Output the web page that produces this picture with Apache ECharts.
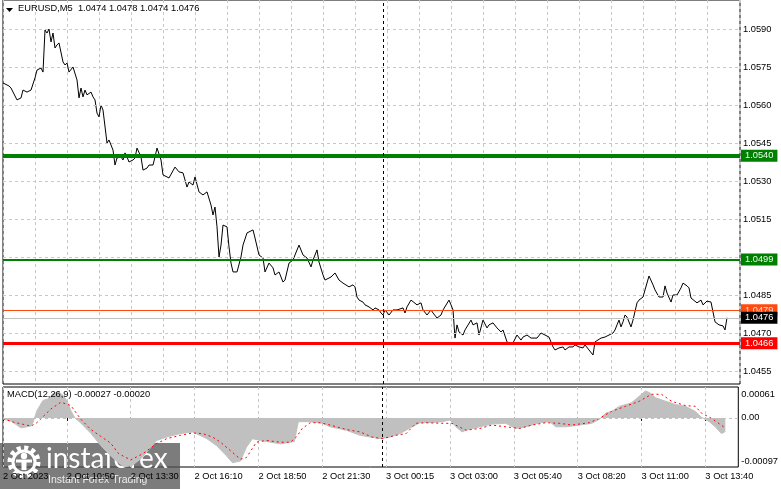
<!DOCTYPE html>
<html><head><meta charset="utf-8">
<script src="https://cdn.jsdelivr.net/npm/echarts@6/dist/echarts.min.js"></script>
<style>html,body{margin:0;padding:0;background:#fff;overflow:hidden}#c{width:781px;height:489px}</style>
</head><body><div id="c"></div>
<script>
// ---------- data ----------
const timeLabels = ["2 Oct 2023","2 Oct 10:50","2 Oct 13:30","2 Oct 16:10","2 Oct 18:50","2 Oct 21:30","3 Oct 00:15","3 Oct 03:00","3 Oct 05:40","3 Oct 08:20","3 Oct 11:00","3 Oct 13:40"];
const timeLabelBars = [0,32,64,96,128,160,192,224,256,288,320,352];
const priceTicks = [1.0455,1.0470,1.0485,1.0500,1.0515,1.0530,1.0545,1.0560,1.0575,1.0590];
const levelValues = [1.0540,1.0499,1.0479,1.0476,1.0466];
const separatorBar = 190;

const priceBars = [0,3,4,7,9,10,12,14,16,17,19,20,21,22,23,24,25,26,27,28,29,30,31,32,33,35,36,37,38,39,40,41,42,44,45,46,47,48,49,50,52,53,55,56,57,59,60,61,62,63,65,66,67,69,70,72,73,75,76,77,79,80,83,86,88,90,92,93,95,96,98,100,102,104,105,106,107,108,109,110,112,113,114,115,117,119,120,122,125,126,128,130,131,133,135,136,138,140,141,143,145,146,148,150,152,154,155,157,158,160,161,164,166,168,170,171,173,175,176,177,178,180,181,183,185,186,188,189,190,191,193,195,197,200,201,202,204,205,207,209,210,212,214,215,217,219,220,223,224,225,226,227,228,230,231,234,235,237,238,240,242,243,245,247,249,250,252,254,255,257,259,260,262,264,265,267,269,271,273,275,276,278,280,281,283,285,286,288,290,291,293,295,296,297,299,301,303,305,306,307,308,309,310,311,312,314,315,317,318,320,321,323,325,326,328,330,331,332,334,335,337,339,340,342,343,344,345,347,349,350,352,354,355,356,358,360,361,362];
const priceClose = [1.05687,1.05675,1.05667,1.05620,1.05628,1.05659,1.05651,1.05659,1.05707,1.05738,1.05746,1.05730,1.05896,1.05884,1.05900,1.05849,1.05884,1.05825,1.05837,1.05845,1.05845,1.05770,1.05758,1.05766,1.05730,1.05750,1.05746,1.05699,1.05628,1.05667,1.05632,1.05659,1.05640,1.05651,1.05632,1.05620,1.05568,1.05553,1.05600,1.05580,1.05450,1.05462,1.05422,1.05363,1.05391,1.05395,1.05383,1.05411,1.05395,1.05375,1.05383,1.05391,1.05430,1.05395,1.05343,1.05351,1.05363,1.05363,1.05395,1.05430,1.05383,1.05324,1.05312,1.05355,1.05336,1.05332,1.05276,1.05296,1.05284,1.05316,1.05257,1.05245,1.05257,1.05205,1.05166,1.05197,1.05119,1.05000,1.05047,1.05126,1.05119,1.05040,1.04976,1.04941,1.04941,1.05000,1.05047,1.05095,1.05107,1.05075,1.05008,1.04996,1.04941,1.04976,1.04957,1.04929,1.04941,1.04901,1.04909,1.04976,1.04988,1.05008,1.05047,1.05008,1.04996,1.04961,1.04988,1.05028,1.04980,1.04929,1.04909,1.04921,1.04937,1.04909,1.04897,1.04890,1.04882,1.04890,1.04882,1.04842,1.04830,1.04822,1.04811,1.04803,1.04791,1.04799,1.04791,1.04779,1.04771,1.04791,1.04771,1.04791,1.04791,1.04799,1.04779,1.04803,1.04830,1.04830,1.04811,1.04819,1.04791,1.04771,1.04791,1.04779,1.04759,1.04771,1.04791,1.04830,1.04811,1.04791,1.04680,1.04732,1.04704,1.04692,1.04712,1.04751,1.04732,1.04740,1.04692,1.04751,1.04720,1.04732,1.04740,1.04720,1.04704,1.04712,1.04665,1.04653,1.04661,1.04692,1.04672,1.04684,1.04692,1.04680,1.04684,1.04680,1.04700,1.04692,1.04684,1.04645,1.04633,1.04641,1.04645,1.04633,1.04645,1.04645,1.04653,1.04645,1.04641,1.04653,1.04633,1.04613,1.04665,1.04672,1.04680,1.04684,1.04692,1.04700,1.04712,1.04732,1.04751,1.04724,1.04744,1.04771,1.04763,1.04724,1.04751,1.04819,1.04830,1.04842,1.04870,1.04925,1.04890,1.04870,1.04842,1.04842,1.04886,1.04858,1.04822,1.04850,1.04850,1.04878,1.04897,1.04886,1.04878,1.04838,1.04842,1.04819,1.04830,1.04811,1.04826,1.04822,1.04819,1.04744,1.04732,1.04728,1.04712,1.04760];

const macdBars = [0,4,9,14,15,17,20,23,25,28,30,32,34,36,39,44,49,54,58,61,65,69,74,77,82,89,95,102,107,112,115,119,122,125,129,139,144,146,148,154,160,164,172,179,184,189,194,199,205,209,214,220,224,227,230,232,239,245,252,257,262,269,274,277,282,289,295,299,302,305,309,312,315,319,322,324,327,332,337,342,347,350,354,357,360,362];
const macdHist = [-0.000026,-0.000061,-0.000197,-0.000162,-0.000095,0.000142,0.000344,0.000379,0.000480,0.000513,0.000446,0.000344,0.000142,0,-0.000101,-0.000304,-0.000547,-0.000750,-0.000891,-0.000970,-0.000932,-0.000810,-0.000588,-0.000446,-0.000379,-0.000310,-0.000278,-0.000405,-0.000547,-0.000750,-0.000885,-0.000851,-0.000581,-0.000411,-0.000446,-0.000513,-0.000480,-0.000466,-0.000075,-0.000075,-0.000107,-0.000176,-0.000243,-0.000344,-0.000379,-0.000411,-0.000379,-0.000310,-0.000176,-0.000095,-0.000095,-0.000075,-0.000041,-0.000176,-0.000278,-0.000243,-0.000176,-0.000122,-0.000107,-0.000209,-0.000176,-0.000095,-0.000075,-0.000176,-0.000176,-0.000142,-0.000107,-0.000026,0.000095,0.000128,0.000229,0.000263,0.000298,0.000432,0.000533,0.000500,0.000399,0.000330,0.000263,0.000229,0.000128,0.000014,-0.000075,-0.000176,-0.000310,-0.000270];

const signalBars = [0,5,14,17,24,29,34,39,44,49,54,58,64,70,77,82,89,95,100,105,109,114,119,122,127,132,139,144,147,150,154,159,164,172,179,185,190,197,202,207,212,220,225,232,239,245,252,259,265,272,279,285,294,299,305,312,319,325,330,335,342,347,350,355,362];
const signalVals = [-0.000014,-0.000081,-0.000162,-0.000095,0.000176,0.000310,0.000243,-0.000026,-0.000229,-0.000365,-0.000500,-0.000709,-0.000831,-0.000709,-0.000507,-0.000411,-0.000344,-0.000298,-0.000310,-0.000379,-0.000480,-0.000648,-0.000816,-0.000784,-0.000480,-0.000446,-0.000480,-0.000480,-0.000379,-0.000209,-0.000095,-0.000095,-0.000142,-0.000229,-0.000278,-0.000379,-0.000411,-0.000344,-0.000310,-0.000107,-0.000095,-0.000107,-0.000107,-0.000243,-0.000209,-0.000142,-0.000176,-0.000209,-0.000142,-0.000095,-0.000107,-0.000142,-0.000095,-0.000006,0.000128,0.000229,0.000330,0.000466,0.000466,0.000330,0.000243,0.000229,0.000095,-0.000006,-0.000200];
const macdTicks = [0.00061, 0, -0.00097];

// ---------- chart ----------
const FONT = 'Liberation Sans';
const FS = 9.3;
const zip = (a, b) => a.slice(0, Math.min(a.length, b.length)).map((x, i) => [x, b[i]]);

const levelStyles = [
  {color:'#008000', width:4, bg:'#008000', fg:'#e8ffe8'},
  {color:'#008000', width:2, bg:'#008000', fg:'#e8ffe8'},
  {color:'#ff4a10', width:1, bg:'#ff4a10', fg:'#ffd8c8'},
  {color:'#c0c0c0', width:1, bg:'#000000', fg:'#ffffff'},
  {color:'#ff0000', width:3, bg:'#ff0000', fg:'#ffffff'}
];

const pMax = 1.0590 + 29/25333;
const pMin = pMax - 384/25333;

const gridLineStyle = {color:'#c8c8c8', type:[3,3], width:1};

const option = {
  animation: false,
  backgroundColor: '#ffffff',
  grid: [
    {left:3, right:41, top:0, height:384, show:true, borderColor:'#000', borderWidth:1, backgroundColor:'transparent'},
    {left:3, right:41, top:387, height:80, show:true, borderColor:'#000', borderWidth:1, backgroundColor:'transparent'}
  ],
  xAxis: [
    {type:'value', gridIndex:0, min:0, max:368.5, interval:16,
     axisLine:{show:false}, axisTick:{show:false}, axisLabel:{show:false},
     splitLine:{show:true, lineStyle:gridLineStyle}},
    {type:'value', gridIndex:1, min:0, max:368.5, interval:16,
     axisLine:{show:false},
     axisTick:{show:true, customValues: timeLabelBars, length:3, lineStyle:{color:'#000'}},
     axisLabel:{show:true, customValues: timeLabelBars, align:'left', margin:5,
       fontFamily:FONT, fontSize:FS, color:'#000',
       formatter: v => { const i = timeLabelBars.indexOf(v); return i >= 0 ? timeLabels[i] : ''; }},
     splitLine:{show:true, lineStyle:gridLineStyle}}
  ],
  yAxis: [
    {type:'value', gridIndex:0, position:'right', min:pMin, max:pMax, scale:true,
     axisLine:{show:false},
     axisTick:{show:true, customValues: priceTicks, length:3, lineStyle:{color:'#000'}},
     axisLabel:{show:true, customValues: priceTicks, margin:3, fontFamily:FONT, fontSize:FS, color:'#000',
       formatter: v => Math.abs(v - 1.05) < 1e-9 ? '' : v.toFixed(4)},
     splitLine:{show:false}},
    {type:'value', gridIndex:1, position:'right', min:-0.00097, max:0.00061,
     axisLine:{show:false},
     axisTick:{show:false},
     axisLabel:{show:true, customValues: macdTicks, margin:3, fontFamily:FONT, fontSize:FS, color:'#000',
       formatter: v => v > 0.0001 ? '{t|' + v.toFixed(5) + '}' : (v < -0.0001 ? '{b|' + v.toFixed(5) + '}' : '{m|0.00}'),
       rich:{
         t:{fontFamily:FONT, fontSize:FS, color:'#000', padding:[14,0,0,0]},
         b:{fontFamily:FONT, fontSize:FS, color:'#000', padding:[0,0,12,0]},
         m:{fontFamily:FONT, fontSize:FS, color:'#000'}
       }},
     splitLine:{show:false}}
  ],
  series: [
    // horizontal grid lines (main panel)
    {type:'line', xAxisIndex:0, yAxisIndex:0, data: zip(priceBars, priceClose), z:1,
     showSymbol:false, symbol:'none', lineStyle:{opacity:0, width:0}, silent:true,
     markLine:{silent:true, symbol:'none', precision:6, label:{show:false},
       lineStyle:gridLineStyle,
       data: priceTicks.map(v => ({yAxis:v}))}},
    // level lines + price tags
    {type:'line', xAxisIndex:0, yAxisIndex:0, data: zip(priceBars, priceClose), z:2,
     showSymbol:false, symbol:'none', lineStyle:{opacity:0, width:0}, silent:true,
     markLine:{silent:true, symbol:'none', precision:6,
       data: levelValues.map((v, i) => ({
         yAxis: v,
         lineStyle:{color:levelStyles[i].color, width:levelStyles[i].width, type:'solid'},
         label:{show:true, position:'end', distance:1, formatter: v.toFixed(4),
           backgroundColor:levelStyles[i].bg, color:levelStyles[i].fg,
           fontFamily:FONT, fontSize:FS, padding:[2,4,1,4]}
       })).concat([{xAxis: separatorBar, lineStyle:{color:'#000', type:[3,3], width:1}, label:{show:false}}])
     }},
    // price line
    {type:'line', xAxisIndex:0, yAxisIndex:0, data: zip(priceBars, priceClose), z:3,
     showSymbol:false, symbol:'none', lineStyle:{color:'#000', width:1}, silent:true},
    // MACD histogram
    {type:'line', xAxisIndex:1, yAxisIndex:1, data: zip(macdBars, macdHist), z:2,
     showSymbol:false, symbol:'none', lineStyle:{color:'#c0c0c0', width:1},
     areaStyle:{color:'#c0c0c0', opacity:1}, silent:true,
     markLine:{silent:true, symbol:'none', precision:6, label:{show:false},
       data:[{yAxis:0, lineStyle:{color:'#c0c0c0', type:[3,3], width:1}},
             {xAxis:separatorBar, lineStyle:{color:'#000', type:[3,3], width:1}}]}},
    // MACD signal
    {type:'line', xAxisIndex:1, yAxisIndex:1, data: zip(signalBars, signalVals), z:3,
     showSymbol:false, symbol:'none', lineStyle:{color:'#ff0000', width:1, type:[2,3]}, silent:true}
  ],
  graphic: [
    {type:'polygon', shape:{points:[[6,8],[13,8],[9.5,12]]}, style:{fill:'#000'}, z:100},
    {type:'text', x:18, y:4, z:100, style:{text:'EURUSD,M5  1.0474 1.0478 1.0474 1.0476', font: FS + 'px "' + FONT + '"', fill:'#000'}},
    {type:'text', x:7, y:390, z:100, style:{text:'MACD(12,26,9) -0.00027 -0.00020', font: FS + 'px "' + FONT + '"', fill:'#000'}},
    // watermark
    {type:'group', z:200, children:[
      {type:'rect', shape:{x:0, y:443, width:180, height:46}, style:{fill:'rgba(80,80,80,0.75)'}},
      {type:'circle', shape:{cx:24, cy:462, r:14}, style:{fill:'none', stroke:'#fff', lineWidth:5, lineDash:[4,3.3]}},
      {type:'circle', shape:{cx:24, cy:462, r:11}, style:{fill:'none', stroke:'#fff', lineWidth:3}},
      {type:'circle', shape:{cx:24, cy:456, r:3.2}, style:{fill:'#fff'}},
      {type:'rect', shape:{x:21.5, y:460, width:5, height:10}, style:{fill:'#fff'}},
      {type:'rect', shape:{x:16, y:459.5, width:16, height:3}, style:{fill:'#fff'}},
      {type:'text', x:46, y:445, style:{text:'instaforex', font:'28px "Lato"', fill:'#ffffff'}},
      {type:'text', x:48, y:475, style:{text:'Instant Forex Trading', font:'10.5px "Liberation Sans"', fill:'rgba(255,255,255,0.85)'}}
    ]}
  ]
};

const chart = echarts.init(document.getElementById('c'), null, {renderer:'canvas'});
chart.setOption(option);
</script>
</body></html>
